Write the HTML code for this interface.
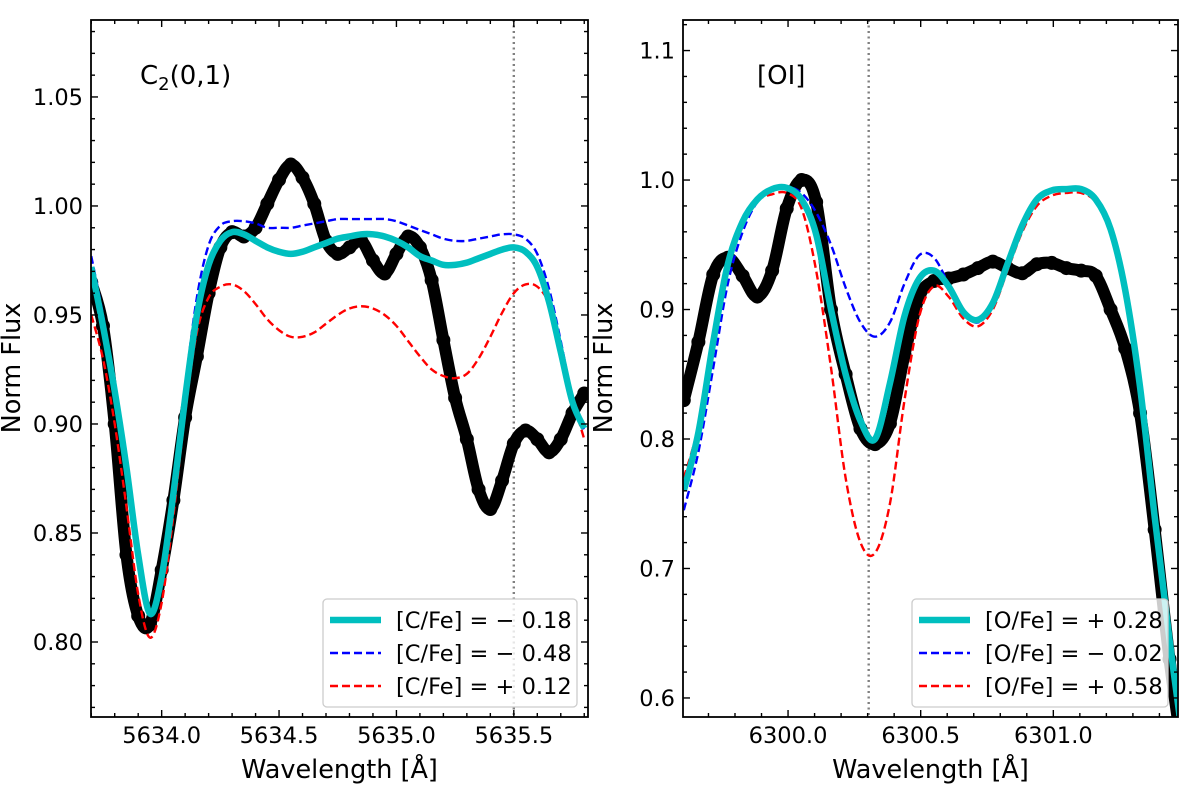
<!DOCTYPE html>
<html><head><meta charset="utf-8"><style>
body{margin:0;background:#fff;}
svg{display:block;font-family:"DejaVu Sans","Liberation Sans",sans-serif;}
</style></head><body>
<svg id="fig" width="1200" height="788" viewBox="0 0 1200 788"></svg>
<script>
// ---- Left panel data (C2 band) ----
const wlLeft = [5633.70,5633.75,5633.80,5633.85,5633.90,5633.95,5634.00,5634.05,5634.10,5634.15,5634.20,5634.25,5634.30,5634.35,5634.40,5634.45,5634.50,5634.55,5634.60,5634.65,5634.70,5634.75,5634.80,5634.85,5634.90,5634.95,5635.00,5635.05,5635.10,5635.15,5635.20,5635.25,5635.30,5635.35,5635.40,5635.45,5635.50,5635.55,5635.60,5635.65,5635.70,5635.75,5635.80];
const obsLeft = [0.965,0.945,0.900,0.840,0.812,0.808,0.833,0.865,0.903,0.931,0.960,0.981,0.988,0.986,0.990,1.001,1.012,1.019,1.013,1.001,0.984,0.978,0.981,0.984,0.975,0.969,0.978,0.986,0.981,0.966,0.9385,0.912,0.893,0.870,0.861,0.874,0.891,0.897,0.893,0.887,0.893,0.905,0.914];
const bestLeft = [0.972,0.945,0.915,0.880,0.840,0.813,0.830,0.868,0.912,0.950,0.973,0.984,0.988,0.987,0.984,0.981,0.979,0.978,0.979,0.981,0.983,0.985,0.986,0.987,0.987,0.986,0.984,0.981,0.977,0.975,0.973,0.973,0.974,0.976,0.978,0.980,0.981,0.979,0.972,0.956,0.933,0.910,0.898];
const lowLeft = [0.977,0.950,0.918,0.880,0.838,0.812,0.830,0.870,0.917,0.958,0.982,0.991,0.993,0.993,0.992,0.990,0.990,0.990,0.991,0.992,0.993,0.994,0.994,0.994,0.994,0.994,0.993,0.991,0.989,0.987,0.985,0.984,0.984,0.985,0.986,0.987,0.987,0.985,0.978,0.962,0.938,0.912,0.897];
const highLeft = [0.950,0.930,0.900,0.862,0.822,0.802,0.818,0.858,0.905,0.942,0.958,0.963,0.964,0.961,0.955,0.948,0.943,0.940,0.940,0.942,0.946,0.950,0.953,0.954,0.953,0.950,0.945,0.938,0.931,0.925,0.922,0.921,0.923,0.930,0.940,0.951,0.960,0.964,0.963,0.955,0.935,0.912,0.893];
const yTicksLeft = [0.80,0.85,0.90,0.95,1.00,1.05];
const xTicksLeft = [5634.0,5634.5,5635.0,5635.5];
const legendLeft = ["[C/Fe] = \u2212 0.18","[C/Fe] = \u2212 0.48","[C/Fe] = + 0.12"];
const lineLeft = 5635.5;

// ---- Right panel data ([OI]) ----
const wlRight = [6299.607,6299.662,6299.718,6299.773,6299.829,6299.884,6299.940,6299.995,6300.051,6300.106,6300.162,6300.217,6300.273,6300.328,6300.384,6300.439,6300.495,6300.550,6300.605,6300.661,6300.716,6300.772,6300.827,6300.883,6300.938,6300.994,6301.049,6301.105,6301.160,6301.216,6301.271,6301.327,6301.382,6301.438,6301.493];
const obsRight = [0.83,0.875,0.927,0.94,0.926,0.91,0.93,0.978,1.0,0.983,0.90,0.85,0.808,0.796,0.812,0.865,0.91,0.922,0.924,0.927,0.932,0.937,0.932,0.928,0.935,0.936,0.932,0.930,0.926,0.900,0.870,0.820,0.730,0.630,0.550];
const bestRight = [0.76,0.805,0.875,0.935,0.968,0.985,0.993,0.994,0.985,0.958,0.90,0.85,0.814,0.80,0.843,0.895,0.924,0.93,0.918,0.898,0.892,0.905,0.935,0.965,0.985,0.992,0.993,0.993,0.985,0.962,0.915,0.84,0.74,0.645,0.56];
const lowRight = [0.745,0.79,0.855,0.92,0.96,0.983,0.993,0.995,0.99,0.975,0.95,0.917,0.89,0.879,0.89,0.92,0.942,0.94,0.92,0.898,0.89,0.903,0.933,0.963,0.984,0.992,0.993,0.993,0.986,0.963,0.916,0.84,0.74,0.645,0.56];
const highRight = [0.77,0.81,0.875,0.935,0.968,0.984,0.989,0.99,0.978,0.93,0.855,0.77,0.72,0.712,0.75,0.83,0.895,0.918,0.91,0.893,0.887,0.9,0.93,0.96,0.98,0.988,0.99,0.99,0.983,0.96,0.913,0.84,0.74,0.645,0.56];
const yTicksRight = [0.6,0.7,0.8,0.9,1.0,1.1];
const xTicksRight = [6300.0,6300.5,6301.0];
const legendRight = ["[O/Fe] = + 0.28","[O/Fe] = \u2212 0.02","[O/Fe] = + 0.58"];
const lineRight = 6300.304;

const NS = "http://www.w3.org/2000/svg";
const svg = document.getElementById('fig');
function mk(tag, attrs, parent){
  const e = document.createElementNS(NS, tag);
  for (const k in attrs) e.setAttribute(k, attrs[k]);
  (parent||svg).appendChild(e);
  return e;
}
function smoothPath(pts){
  let d = "M" + pts[0][0].toFixed(2) + "," + pts[0][1].toFixed(2);
  for (let i=0;i<pts.length-1;i++){
    const p0 = pts[i-1]||pts[i], p1 = pts[i], p2 = pts[i+1], p3 = pts[i+2]||p2;
    const c1x = p1[0]+(p2[0]-p0[0])/6, c1y = p1[1]+(p2[1]-p0[1])/6;
    const c2x = p2[0]-(p3[0]-p1[0])/6, c2y = p2[1]-(p3[1]-p1[1])/6;
    d += " C"+c1x.toFixed(2)+","+c1y.toFixed(2)+" "+c2x.toFixed(2)+","+c2y.toFixed(2)+" "+p2[0].toFixed(2)+","+p2[1].toFixed(2);
  }
  return d;
}

function panel(cfg){
  const {id, L, R, T, B, x0, x1, y0, y1, wl, obs, best, low, high, yTicks, yMinor, xTicks, xMinor, yFmt, xFmt, vline, legend, label, labelSub, legendBox} = cfg;
  const sx = v => L + (v-x0)/(x1-x0)*(R-L);
  const sy = v => B - (v-y0)/(y1-y0)*(B-T);
  const g = mk('g', {});
  
  
  const clipId = 'clip-'+id;
  const cp = mk('clipPath', {id: clipId}, g);
  mk('rect', {x:L, y:T, width:R-L, height:B-T}, cp);
  const plot = mk('g', {'clip-path':'url(#'+clipId+')'}, g);

  const vl = mk('line', {x1:sx(vline), x2:sx(vline), y1:T, y2:B, stroke:'#808080', 'stroke-width':2.4, 'stroke-dasharray':'2,3.5'}, plot);
  
  

  // observed: thick band + dots
  const opts = wl.map((w,i)=>[sx(w), sy(obs[i])]);
  const obsG = mk('g', {}, plot);
  
  
  mk('path', {d: smoothPath(opts), fill:'none', stroke:'#000', 'stroke-width':12, 'stroke-linejoin':'round', 'stroke-linecap':'round'}, obsG);
  opts.forEach(p=>{
    const c = mk('circle', {cx:p[0], cy:p[1], r:7, fill:'#000'}, obsG);
    
    
  });

  const pb = mk('path', {d: smoothPath(wl.map((w,i)=>[sx(w), sy(low[i])])), fill:'none', stroke:'#0000ff', 'stroke-width':2.4, 'stroke-dasharray':'8,4'}, plot);
  
  
  const pr = mk('path', {d: smoothPath(wl.map((w,i)=>[sx(w), sy(high[i])])), fill:'none', stroke:'#ff0000', 'stroke-width':2.4, 'stroke-dasharray':'8,4'}, plot);
  
  
  const pc = mk('path', {d: smoothPath(wl.map((w,i)=>[sx(w), sy(best[i])])), fill:'none', stroke:'#00bfbf', 'stroke-width':6.5}, plot);
  
  

  const fr = mk('rect', {x:L, y:T, width:R-L, height:B-T, fill:'none', stroke:'#000', 'stroke-width':1.8}, g);
  
  

  const tg = mk('g', {stroke:'#000', 'stroke-width':1.4}, g);
  for (let v = Math.ceil(y0/yMinor)*yMinor; v <= y1+1e-9; v += yMinor){
    const y = sy(v);
    const major = yTicks.some(t=>Math.abs(t-v)<1e-6);
    const len = major?7:4;
    mk('line',{x1:L,x2:L+len,y1:y,y2:y},tg);
    mk('line',{x1:R,x2:R-len,y1:y,y2:y},tg);
  }
  for (let v = Math.ceil(x0/xMinor)*xMinor; v <= x1+1e-9; v += xMinor){
    const x = sx(v);
    const major = xTicks.some(t=>Math.abs(t-v)<1e-6);
    const len = major?7:4;
    mk('line',{x1:x,x2:x,y1:B,y2:B-len},tg);
    mk('line',{x1:x,x2:x,y1:T,y2:T+len},tg);
  }
  yTicks.forEach(v=>{
    const t = mk('text',{x:L-8, y:sy(v)+8, 'text-anchor':'end', 'font-size':22.5, fill:'#000'}, g);
    t.textContent = v.toFixed(yFmt);
    
    
  });
  xTicks.forEach(v=>{
    const t = mk('text',{x:sx(v), y:B+26, 'text-anchor':'middle', 'font-size':22.5, fill:'#000'}, g);
    t.textContent = v.toFixed(xFmt);
    
    
  });
  const xt = mk('text',{x:(L+R)/2, y:778, 'text-anchor':'middle', 'font-size':25.5, fill:'#000'}, g);
  xt.textContent = 'Wavelength [\u00c5]';
  
  
  const ytx = cfg.yTitleX;
  const yt = mk('text',{x:ytx, y:368, 'text-anchor':'middle', 'font-size':25.5, fill:'#000', transform:'rotate(-90 '+ytx+' 368)'}, g);
  yt.textContent = 'Norm Flux';
  
  

  const lb = mk('text',{x:label[1], y:label[2], 'font-size':26, fill:'#000'}, g);
  
  
  if (labelSub){
    const a = mk('tspan',{},lb); a.textContent = labelSub[0];
    const b = mk('tspan',{'font-size':18, dy:6},lb); b.textContent = labelSub[1];
    const c = mk('tspan',{dy:-6},lb); c.textContent = labelSub[2];
  } else lb.textContent = label[0];

  const [bx,by,bw,bh] = legendBox;
  const lg = mk('g',{},g);
  
  
  mk('rect',{x:bx,y:by,width:bw,height:bh,rx:4,fill:'#fff','fill-opacity':0.8,stroke:'#cccccc','stroke-width':1.3},lg);
  const styles = [{stroke:'#00bfbf','stroke-width':6.5},{stroke:'#0000ff','stroke-width':2.4,'stroke-dasharray':'8,4'},{stroke:'#ff0000','stroke-width':2.4,'stroke-dasharray':'8,4'}];
  legend.forEach((txt,i)=>{
    const yy = by+21+i*33;
    const ln = mk('line', Object.assign({x1:bx+7,x2:bx+58,y1:yy,y2:yy},styles[i]), lg);
    
    
    const t = mk('text',{x:bx+73,y:yy+8,'font-size':22.5,fill:'#000'},lg);
    t.textContent = txt;
    
    
  });
}

panel({id:'c2', L:91, R:588, T:20, B:717, x0:5633.699, x1:5635.816, y0:0.7656, y1:1.0853,
  wl:wlLeft, obs:obsLeft, best:bestLeft, low:lowLeft, high:highLeft,
  yTicks:yTicksLeft, yMinor:0.01, xTicks:xTicksLeft, xMinor:0.1, yFmt:2, xFmt:1,
  vline:lineLeft, legend:legendLeft, label:['',140,84], labelSub:['C','2','(0,1)'],
  legendBox:[323,599,254,108], yTitleX:20});
panel({id:'oi', L:683, R:1178, T:20, B:717, x0:6299.604, x1:6301.47, y0:0.5853, y1:1.1236,
  wl:wlRight, obs:obsRight, best:bestRight, low:lowRight, high:highRight,
  yTicks:yTicksRight, yMinor:0.02, xTicks:xTicksRight, xMinor:0.1, yFmt:1, xFmt:1,
  vline:lineRight, legend:legendRight, label:['[OI]',757,84], labelSub:null,
  legendBox:[912,599,256,108], yTitleX:612});
</script>
</body></html>
